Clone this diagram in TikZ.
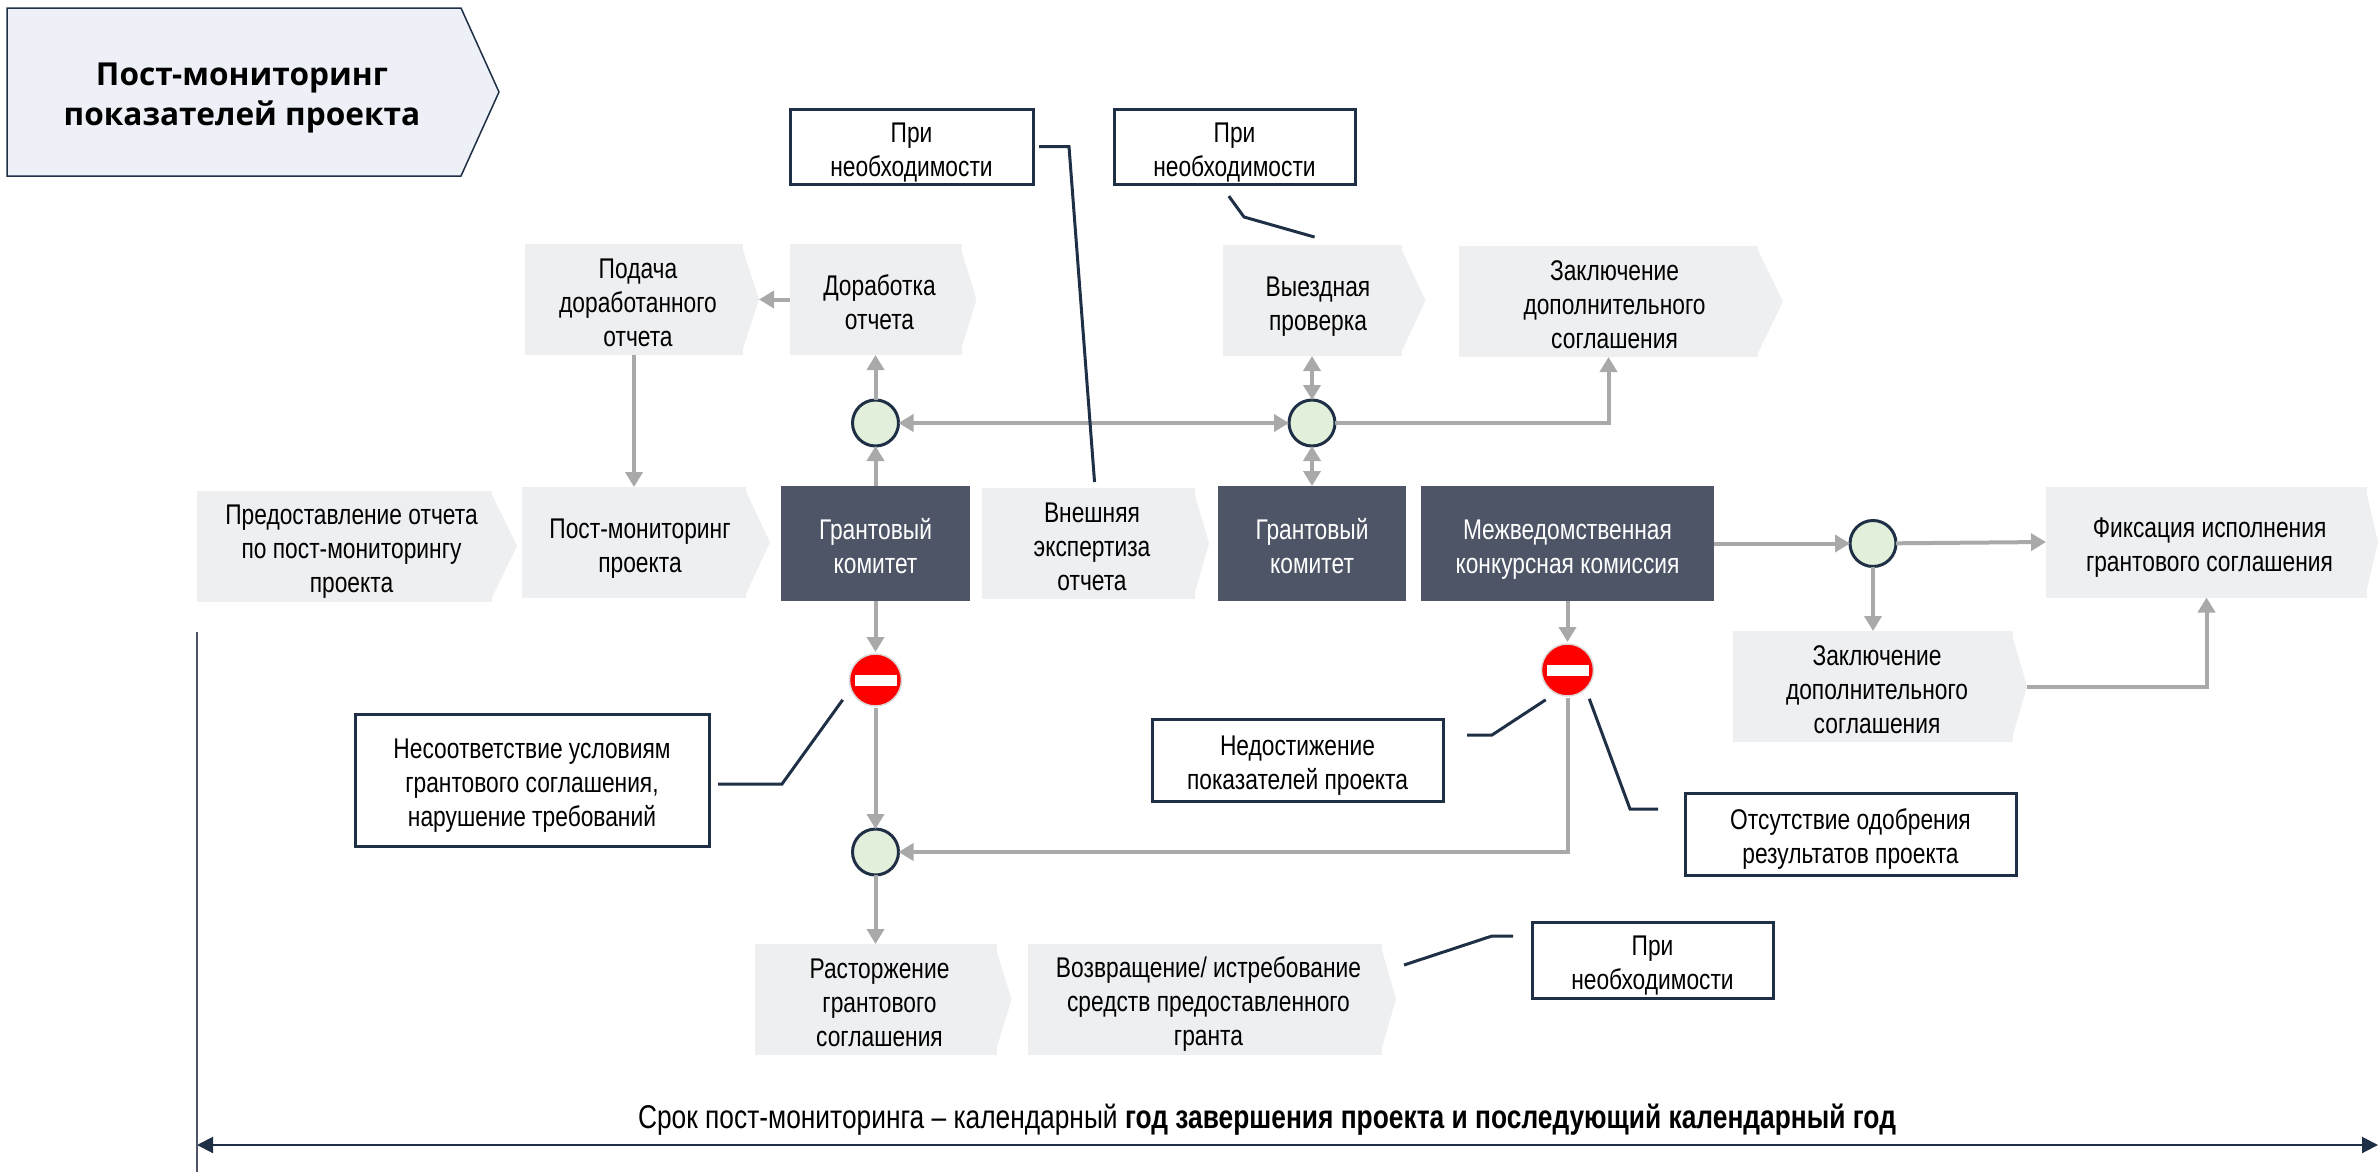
\documentclass[tikz,border=0pt]{standalone}
\usepackage{fontspec}
\setmainfont[FakeStretch=0.8]{Liberation Sans}
\newfontfamily\titlefont{Open Sans}
\usetikzlibrary{arrows.meta}
\definecolor{chevgrey}{HTML}{EEEFF1}
\definecolor{darkslate}{HTML}{4D5567}
\definecolor{arrowgrey}{HTML}{A9A9A9}
\definecolor{linedark}{HTML}{1F2F46}
\definecolor{junctiongreen}{HTML}{E2EFDA}
\definecolor{titlefill}{HTML}{EDF0F6}
% text lines with an optional push to the right, no height of their own
\newcommand{\stacked}[2][0]{\hspace*{#1cm}\raisebox{-3.7pt}[0pt][0pt]{\begin{tabular}{@{}c@{}}#2\end{tabular}}}

\begin{document}
\begin{tikzpicture}[
    font=\fontsize{8.1}{9.7}\selectfont,
    chev/.style 2 args={rectangle, fill=chevgrey, inner sep=0pt, outer sep=0pt, minimum height=1.11cm, minimum width=#1cm,
        append after command={\pgfextra{
            \fill[chevgrey] ([xshift=-.02cm]\tikzlastnode.north east) -- ([xshift=#2cm]\tikzlastnode.east) -- ([xshift=-.02cm]\tikzlastnode.south east) -- cycle;
            \coordinate (\tikzlastnode-tip) at ([xshift=#2cm]\tikzlastnode.east);
        }}},
    dark/.style={rectangle, fill=darkslate, text=white, inner sep=0pt, outer sep=0pt, minimum height=1.15cm},
    box/.style={rectangle, draw=linedark, fill=white, line width=.03cm, inner sep=0pt, outer sep=0pt},
    junction/.style={circle, draw=linedark, fill=junctiongreen, line width=.03cm, inner sep=0pt, outer sep=0pt, minimum size=.46cm},
    stopsign/.style={circle, fill=red, draw=black!15, line width=.015cm, inner sep=0pt, outer sep=.02cm, minimum size=.52cm,
        path picture={\fill[white] (path picture bounding box.center) +(-.21,-.055) rectangle +(.21,.055);}},
    arrow/.style={-{Triangle[length=.15cm,width=.17cm]}, draw=arrowgrey, line width=.04cm},
    twoway/.style={{Triangle[length=.15cm,width=.17cm]}-{Triangle[length=.15cm,width=.17cm]}, draw=arrowgrey, line width=.04cm},
    leader/.style={draw=linedark, line width=.03cm},
    span/.style={{Triangle[length=.16cm,width=.16cm]}-{Triangle[length=.16cm,width=.16cm]}, draw=linedark, line width=.02cm}
]
\useasboundingbox (0,0) rectangle (23.78,-11.72);

% Title
\draw[draw=linedark, fill=titlefill, line width=.015cm] (.07,-.08) -- (4.61,-.08) -- (4.99,-.92) -- (4.61,-1.76) -- (.07,-1.76) -- cycle;
\node[font=\titlefont\bfseries\fontsize{9}{11.4}\selectfont, align=center] (title) at (2.42,-.98) {Пост-мониторинг\\показателей проекта};

% Chevron nodes
\node[chev={2.18}{.16}] (podacha) at (6.34,-2.995) {\stacked[.08]{Подача\\доработанного\\отчета}};
\node[chev={1.72}{.15}] (dorab) at (8.755,-2.995) {\stacked[.08]{Доработка\\отчета}};
\node[chev={1.79}{.24}] (vyezd) at (13.12,-3.005) {\stacked[.12]{Выездная\\проверка}};
\node[chev={2.99}{.25}] (zaklone) at (16.085,-3.015) {\stacked[.12]{Заключение\\дополнительного\\соглашения}};
\node[chev={2.95}{.25}] (predst) at (3.445,-5.46) {\stacked[.14]{Предоставление отчета\\по пост-мониторингу\\проекта}};
\node[chev={2.24}{.24}] (postm) at (6.34,-5.425) {\stacked[.12]{Пост-мониторинг\\проекта}};
\node[chev={2.13}{.14}] (vnesh) at (10.885,-5.435) {\stacked[.07]{Внешняя\\экспертиза\\отчета}};
\node[chev={3.21}{.11}] (fiks) at (22.065,-5.42) {\stacked[.06]{Фиксация исполнения\\грантового соглашения}};
\node[chev={2.80}{.14}] (zakltwo) at (18.73,-6.865) {\stacked[.08]{Заключение\\дополнительного\\соглашения}};
\node[chev={2.42}{.15}] (rastor) at (8.755,-9.995) {\stacked[.08]{Расторжение\\грантового\\соглашения}};
\node[chev={3.54}{.14}] (vozvr) at (12.05,-9.99) {\stacked[.07]{Возвращение/ истребование\\средств предоставленного\\гранта}};

% Dark nodes
\node[dark, minimum width=1.89cm] (komone) at (8.755,-5.435) {\stacked{Грантовый\\комитет}};
\node[dark, minimum width=1.88cm] (komtwo) at (13.12,-5.435) {\stacked{Грантовый\\комитет}};
\node[dark, minimum width=2.93cm] (mvk) at (15.675,-5.435) {\stacked{Межведомственная\\конкурсная комиссия}};

% Note boxes
\node[box, minimum width=2.43cm, minimum height=.75cm] (prione) at (9.115,-1.465) {\stacked{При\\необходимости}};
\node[box, minimum width=2.41cm, minimum height=.75cm] (pritwo) at (12.345,-1.465) {\stacked{При\\необходимости}};
\node[box, minimum width=2.41cm, minimum height=.76cm] (prithree) at (16.525,-9.6) {\stacked{При\\необходимости}};
\node[box, minimum width=3.54cm, minimum height=1.32cm] (nesoot) at (5.32,-7.8) {\stacked{Несоответствие условиям\\грантового соглашения,\\нарушение требований}};
\node[box, minimum width=2.91cm, minimum height=.82cm] (nedost) at (12.975,-7.6) {\stacked{Недостижение\\показателей проекта}};
\node[box, minimum width=3.31cm, minimum height=.82cm] (otsut) at (18.505,-8.34) {\stacked{Отсутствие одобрения\\результатов проекта}};

% Junctions and stop signs
\node[junction] (jone) at (8.755,-4.23) {};
\node[junction] (jtwo) at (13.12,-4.23) {};
\node[junction] (jthree) at (18.73,-5.435) {};
\node[junction] (jfour) at (8.755,-8.52) {};
\node[stopsign] (stopone) at (8.755,-6.8) {};
\node[stopsign] (stoptwo) at (15.675,-6.7) {};

% Period text
\node[font=\fontsize{9.37}{11}\selectfont] (period) at (12.67,-11.2) {Срок пост-мониторинга – календарный \textbf{год завершения проекта и последующий календарный год}};

% Arrows
\draw[arrow] (dorab) -- (podacha-tip);
\draw[arrow] (podacha) -- (postm);
\draw[arrow] (komone) -- (jone);
\draw[arrow] (jone) -- (dorab);
\draw[twoway] (jone) -- (jtwo);
\draw[twoway] (jtwo) -- (vyezd);
\draw[twoway] (jtwo) -- (komtwo);
\draw[arrow] (jtwo) -| (zaklone);
\draw[arrow] (mvk) -- (jthree);
\draw[arrow] (jthree) -- (fiks.west);
\draw[arrow] (jthree) -- (zakltwo);
\draw[arrow] (zakltwo-tip) -| (fiks);
\draw[arrow] (komone) -- (stopone);
\draw[arrow] (stopone) -- (jfour);
\draw[arrow] (jfour) -- (rastor);
\draw[arrow] (mvk) -- (stoptwo);
\draw[arrow] (stoptwo) |- (jfour);

% Leaders
\coordinate (bendone) at (10.69,-1.465);
\coordinate (bendtwo) at (12.44,-2.17);
\coordinate (bendthree) at (7.82,-7.84);
\coordinate (bendfour) at (14.92,-7.35);
\coordinate (bendfive) at (16.30,-8.09);
\coordinate (bendsix) at (14.92,-9.36);
\draw[leader, shorten <=.06cm, shorten >=.06cm] (prione.east) -- (bendone) -- ([xshift=.065cm]vnesh.north);
\draw[leader, shorten <=.15cm, shorten >=.29cm] ([xshift=-.145cm]pritwo.south) -- (bendtwo) -- ([xshift=.305cm]vyezd.north);
\draw[leader, shorten <=.09cm] ([yshift=-.04cm]nesoot.east) -- (bendthree) -- ([xshift=-.13cm]stopone.south west);
\draw[leader, shorten <=.24cm] ([yshift=.25cm]nedost.east) -- (bendfour) -- ([shift={(-.02,-.1)}]stoptwo.south west);
\draw[leader, shorten <=.27cm] ([yshift=.25cm]otsut.west) -- (bendfive) -- ([shift={(.02,-.09)}]stoptwo.south east);
\draw[leader, shorten <=.19cm] ([yshift=.24cm]prithree.west) -- (bendsix) -- ([shift={(.22,.34)}]vozvr.east);

% Time span
\coordinate (spanleft) at (1.97,-11.45);
\coordinate (spanright) at (23.78,-11.45);
\coordinate (axistop) at (1.97,-6.32);
\coordinate (axisbottom) at (1.97,-11.72);
\draw[span] (spanleft) -- (spanright);
\draw[draw=darkslate, line width=.02cm] (axistop) -- (axisbottom);

\end{tikzpicture}
\end{document}
